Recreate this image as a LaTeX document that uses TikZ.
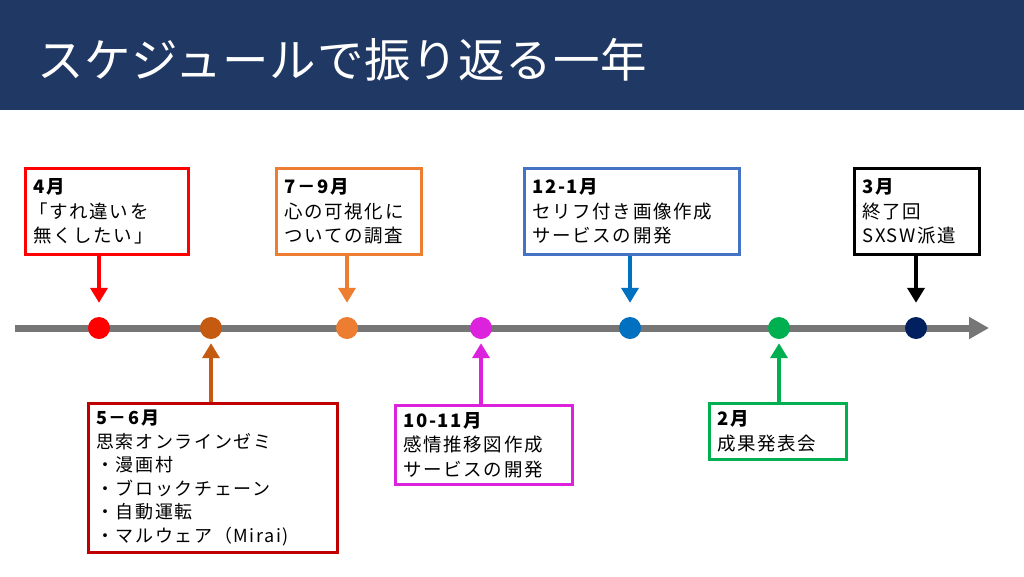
\documentclass[tikz,border=0pt]{standalone}
\usepackage{fontspec}
\setmainfont{Noto Sans CJK JP}
\usetikzlibrary{arrows.meta,calc}
\definecolor{hdr}{HTML}{203864}
\definecolor{tl}{HTML}{767676}
\definecolor{cRed}{HTML}{FF0000}
\definecolor{cBrown}{HTML}{C55A11}
\definecolor{cDarkRed}{HTML}{C00000}
\definecolor{cOrange}{HTML}{ED7D31}
\definecolor{cMag}{HTML}{DD22DD}
\definecolor{cBlue}{HTML}{0070C0}
\definecolor{cBlueBox}{HTML}{4472C4}
\definecolor{cGreen}{HTML}{00B050}
\definecolor{cNavy}{HTML}{002060}
\tikzset{
  dot/.style={circle,fill=#1,minimum size=22pt,inner sep=0pt},
  evbox/.style={draw=#1,line width=2.6pt,fill=white,anchor=north west,align=left,
     inner xsep=8pt,inner ysep=3pt,font=\fontsize{18.5}{24.5}\selectfont\addfontfeatures{LetterSpace=9}},
  darr/.style={draw=#1,line width=4.5pt,-{Triangle[width=17pt,length=15pt]}},
}
\begin{document}
\begin{tikzpicture}[x=1pt,y=-1pt]
\useasboundingbox (0,0) rectangle (1024,576);
\fill[hdr] (0,0) rectangle (1024,110);
\node[anchor=west,text=white,inner sep=0pt,font=\fontsize{46.5}{50}\selectfont\addfontfeatures{LetterSpace=1.5}] (title) at (37,60) {スケジュールで振り返る一年};
% timeline
\coordinate (ts) at (15,328);
\coordinate (te) at (989,328);
\draw[tl,line width=7pt,-{Triangle[width=21pt,length=20pt]}] (ts) -- (te);
\node[dot=cRed] (d1) at (99,328) {};
\node[dot=cBrown] (d2) at (211,328) {};
\node[dot=cOrange] (d3) at (347,328) {};
\node[dot=cMag] (d4) at (481,328) {};
\node[dot=cBlue] (d5) at (630,328) {};
\node[dot=cGreen] (d6) at (779,328) {};
\node[dot=cNavy] (d7) at (916,328) {};
% top boxes
\node[evbox=cRed,minimum height=86pt,text width=147pt] (b1) at (24,167)
  {\textbf{4月}\\\hspace*{-4pt}「すれ違いを\\無くしたい」};
\node[evbox=cOrange,minimum height=86pt,text width=129pt] (b3) at (275,167)
  {\textbf{7－9月}\\心の可視化に\\ついての調査};
\node[evbox=cBlueBox,minimum height=86pt,text width=199pt] (b5) at (523,167)
  {\textbf{12-1月}\\セリフ付き画像作成\\サービスの開発};
\node[evbox=black,minimum height=86pt,text width=109pt] (b7) at (853,167)
  {\textbf{3月}\\終了回\\SXSW派遣};
% bottom boxes
\node[evbox=cDarkRed,minimum height=149pt,text width=233pt,font=\fontsize{18}{23.5}\selectfont\addfontfeatures{LetterSpace=9}] (b2) at (87,402)
  {\textbf{5－6月}\\思索オンラインゼミ\\・漫画村\\・ブロックチェーン\\・自動運転\\・マルウェア（Mirai)};
\node[evbox=cMag,minimum height=79pt,text width=161pt] (b4) at (394,404)
  {\textbf{10-11月}\\感情推移図作成\\サービスの開発};
\node[evbox=cGreen,minimum height=56pt,text width=121pt] (b6) at (708,402)
  {\textbf{2月}\\成果発表会};
% arrows
\draw[darr=cRed,shorten >=14pt] (b1.south -| d1) -- (d1.north);
\draw[darr=cOrange,shorten >=14pt] (b3.south -| d3) -- (d3.north);
\draw[darr=cBlue,shorten >=14pt] (b5.south -| d5) -- (d5.north);
\draw[darr=black,shorten >=14pt] (b7.south -| d7) -- (d7.north);
\draw[darr=cBrown,shorten >=4pt] (b2.north -| d2) -- (d2.south);
\draw[darr=cMag,shorten >=4pt] (b4.north -| d4) -- (d4.south);
\draw[darr=cGreen,shorten >=4pt] (b6.north -| d6) -- (d6.south);
\end{tikzpicture}
\end{document}
